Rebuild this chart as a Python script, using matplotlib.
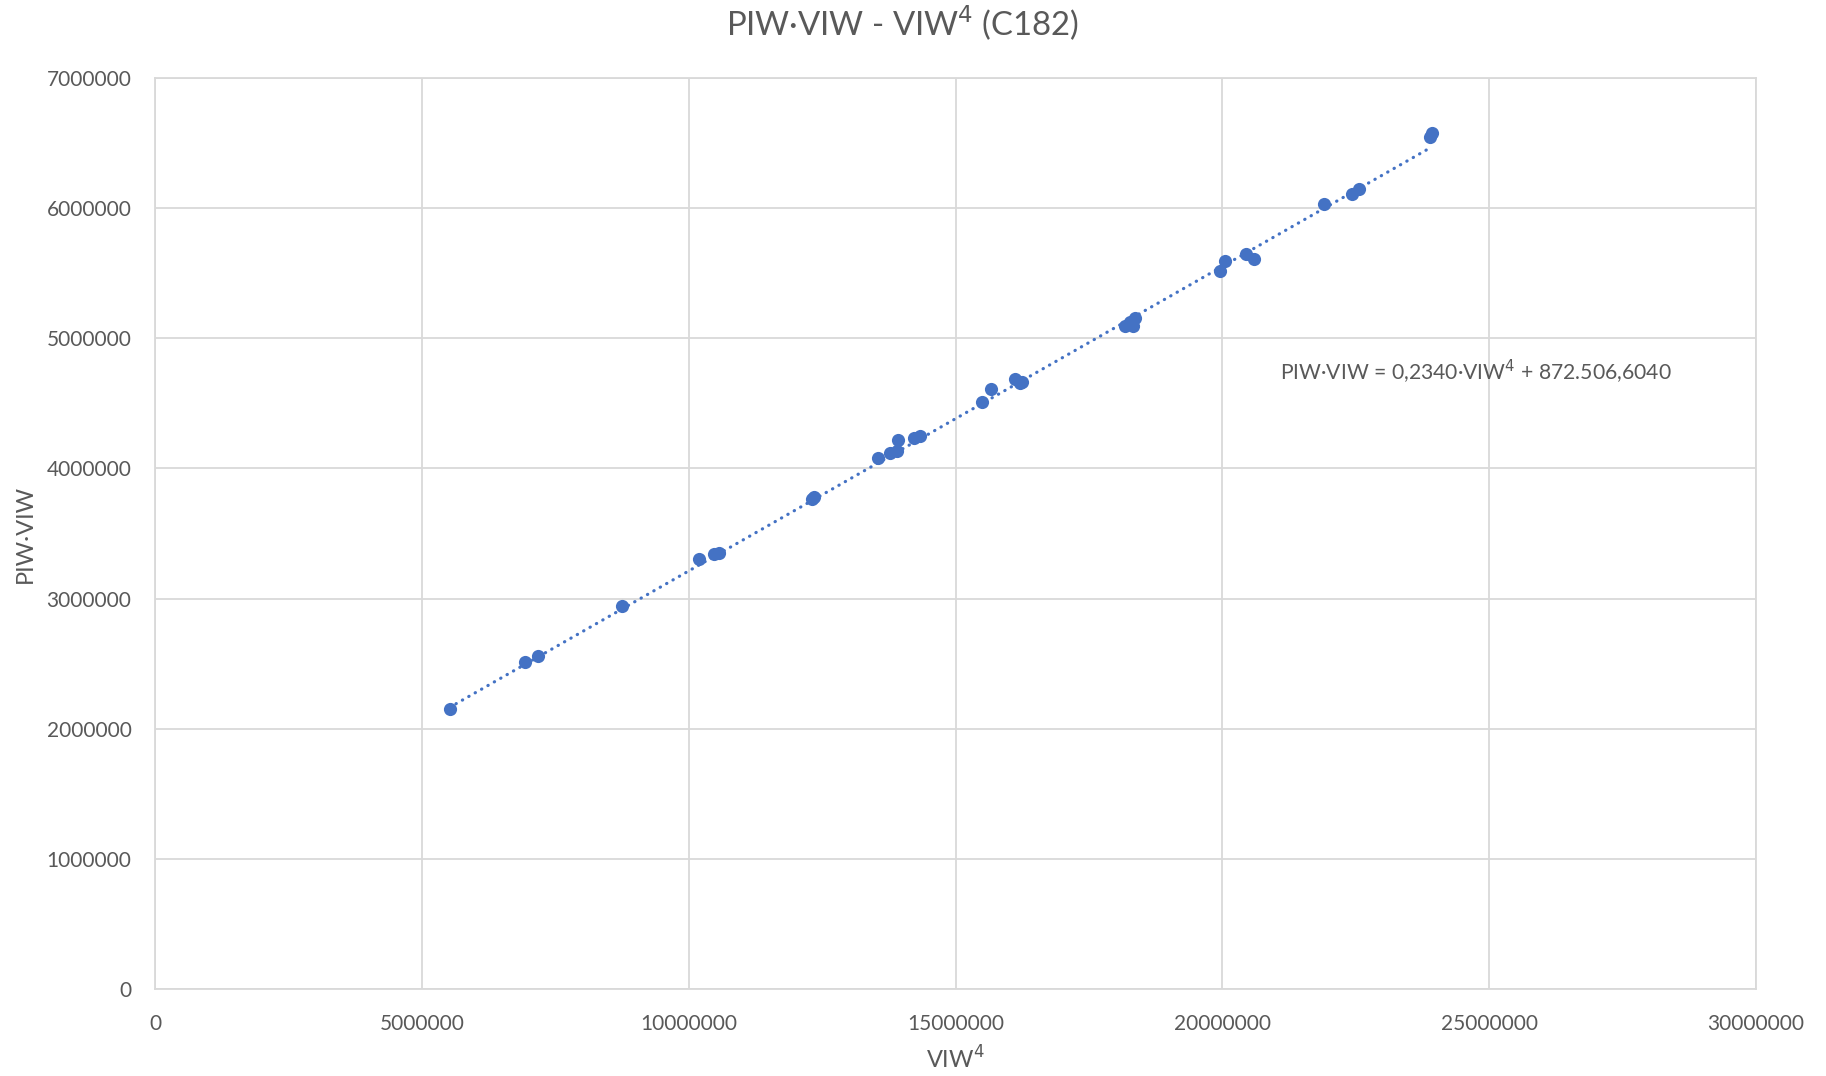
import matplotlib
matplotlib.use('Agg')
import matplotlib.pyplot as plt

# data
viw4 = [5.52e6, 6.94e6, 7.18e6, 8.75e6, 10.19e6, 10.47e6, 10.56e6, 12.31e6, 12.35e6,
        13.55e6, 13.77e6, 13.90e6, 13.92e6, 14.23e6, 14.33e6, 15.49e6, 15.67e6,
        16.12e6, 16.21e6, 16.25e6, 18.17e6, 18.26e6, 18.33e6, 18.37e6, 19.96e6,
        20.05e6, 20.44e6, 20.60e6, 21.90e6, 22.43e6, 22.56e6, 23.89e6, 23.93e6]
piw_viw = [2.148e6, 2.515e6, 2.560e6, 2.945e6, 3.303e6, 3.339e6, 3.348e6, 3.768e6, 3.777e6,
           4.082e6, 4.118e6, 4.136e6, 4.216e6, 4.234e6, 4.252e6, 4.511e6, 4.610e6,
           4.690e6, 4.655e6, 4.664e6, 5.093e6, 5.129e6, 5.093e6, 5.156e6, 5.514e6,
           5.594e6, 5.648e6, 5.612e6, 6.033e6, 6.105e6, 6.149e6, 6.543e6, 6.579e6]

slope = 0.2340
intercept = 872506.6040
x_ticks = [0, 5000000, 10000000, 15000000, 20000000, 25000000, 30000000]
y_ticks = [0, 1000000, 2000000, 3000000, 4000000, 5000000, 6000000, 7000000]

TEXT = '#595959'
GRID = '#D9D9D9'
BLUE = '#4472C4'

plt.rcParams['font.family'] = ['Lato', 'DejaVu Sans']

fig = plt.figure(figsize=(18.26, 10.76), dpi=100)
ax = fig.add_axes([0.0849, 0.0808, 0.8768, 0.8467])

ax.scatter(viw4, piw_viw, s=90, color=BLUE, zorder=3, linewidths=0)

# linear trend line
x0, x1 = min(viw4), max(viw4)
ax.plot([x0, x1], [slope * x0 + intercept, slope * x1 + intercept],
        color=BLUE, lw=2.3, linestyle=(0, (0.1, 2.2)), dash_capstyle='round', zorder=2)

ax.set_xlim(0, 30000000)
ax.set_ylim(0, 7000000)
ax.set_xticks(x_ticks)
ax.set_yticks(y_ticks)
ax.set_xticklabels([str(v) for v in x_ticks])
ax.set_yticklabels([str(v) for v in y_ticks])
ax.tick_params(length=0, labelsize=15, colors=TEXT)
ax.tick_params(axis='x', pad=18)
ax.tick_params(axis='y', pad=17)
ax.grid(True, color=GRID, lw=1.3, zorder=0)
ax.set_axisbelow(True)
for s in ax.spines.values():
    s.set_color(GRID)
    s.set_linewidth(1.3)

ax.set_xlabel('VIW$^4$', fontsize=17, color=TEXT, labelpad=8)
ax.set_ylabel('PIW·VIW', fontsize=17, color=TEXT, labelpad=8)
fig.text(0.4945, 0.978, 'PIW·VIW - VIW$^4$ (C182)', ha='center', va='center',
         fontsize=23.7, color=TEXT)

ax.text(21.08e6, 4.744e6, 'PIW·VIW = 0,2340·VIW$^4$ + 872.506,6040',
        ha='left', va='center', fontsize=15.2, color=TEXT)

fig.savefig('out.png', dpi=100)
